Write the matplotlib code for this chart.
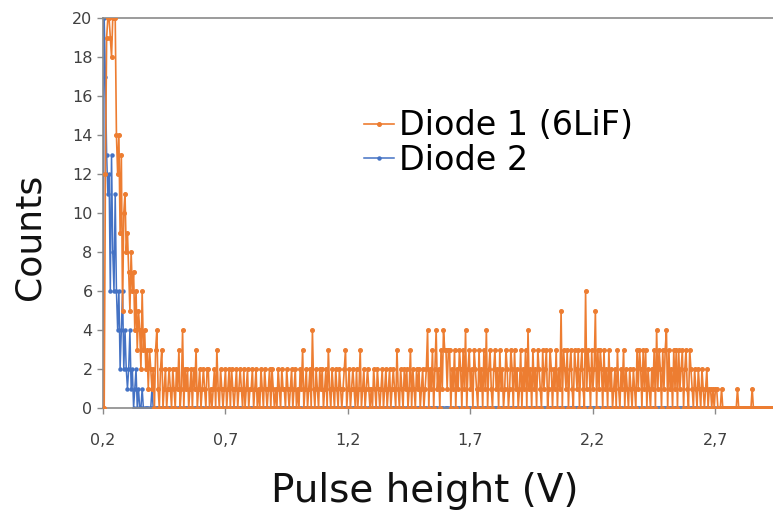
import matplotlib.pyplot as plt
import numpy as np

# pulse-height channels, 0.005 V wide, starting at 0.20 V
x_start = 0.20
x_step = 0.005

# Diode 1 (6LiF) counts; one row = 0.1 V
diode1_peak = [0, 0, 12, 19, 20, 20, 19, 18, 20, 20, 20, 14, 12, 14, 9, 13, 5, 10, 11, 8,
               9, 7, 5, 8, 6, 7, 4, 6, 3, 5, 4, 2, 6, 3, 4, 2, 3, 1, 3, 2,
               1, 2, 0, 3, 4, 1, 0, 2, 3, 0]                      # 0.20 - 0.445
diode1_flat = [1, 2, 0, 1, 2, 1, 0, 2, 1, 0, 2, 1, 3, 0, 1, 4, 0, 2, 1, 2,
               0, 1, 2, 0, 2, 1, 3, 0, 1, 2, 0, 1, 2, 1, 0, 2, 2, 0, 1, 0,
               1, 2, 0, 3, 1, 0, 2, 1, 0, 1, 2, 0, 1, 2, 0, 2, 1, 0, 1, 2,
               0, 1, 2, 1, 0, 2, 0, 1, 2, 0, 1, 1, 2, 0, 1, 2, 0, 1, 0, 2,
               1, 0, 2, 1, 0, 1, 2, 0, 2, 1, 0, 1, 0, 2, 1, 0, 2, 1, 1, 0,
               2, 1, 0, 1, 2, 0, 1, 2, 0, 1, 0, 2, 1, 3, 0, 1, 2, 0, 1, 2,
               0, 4, 1, 0, 2, 1, 0, 2, 1, 2, 0, 1, 2, 0, 3, 1, 0, 2, 1, 0,
               2, 1, 0, 2, 1, 0, 1, 2, 3, 0, 1, 2, 0, 1, 2, 1, 0, 2, 0, 1,
               3, 0, 1, 2, 0, 1, 2, 1, 0, 1, 0, 2, 1, 0, 2, 1, 0, 1, 2, 0,
               1, 2, 0, 1, 2, 0, 1, 2, 1, 0, 3, 1, 0, 2, 1, 0, 2, 1, 2, 0,
               1, 3, 0, 2, 1, 0, 2, 1, 2, 0, 1, 2, 0, 1, 2, 4, 0, 2, 1, 3]  # 0.45 - 1.545
diode1_bump = [0, 2, 4, 1, 2, 0, 3, 1, 4, 3, 3, 1, 3, 3, 0, 2, 1, 3, 0, 2,
               1, 3, 2, 0, 3, 1, 4, 0, 2, 3, 1, 2, 0, 3, 2, 1, 0, 3, 1, 2,
               0, 3, 1, 4, 0, 2, 3, 1, 0, 2, 3, 1, 2, 0, 3, 1, 2, 0, 1, 3,
               2, 0, 1, 3, 2, 0, 3, 1, 2, 0, 1, 3, 0, 2, 1, 3, 0, 4, 1, 2,
               0, 3, 1, 2, 0, 3, 2, 1, 0, 3, 1, 2, 3, 0, 1, 3, 2, 0, 2, 1,
               3, 0, 2, 1, 5, 0, 3, 2, 1, 3, 0, 2, 3, 1, 0, 3, 2, 1, 3, 0,
               2, 3, 1, 0, 6, 1, 3, 2, 0, 3, 1, 2, 5, 0, 3, 1, 3, 2, 0, 3,
               1, 2, 0, 3, 1, 2, 0, 1, 2, 0, 3, 1, 0, 2, 1, 3, 0, 2, 1, 0,
               2, 1, 0, 2, 1, 0, 3, 1, 3, 2, 0, 3, 1, 3, 0, 2, 1, 0, 2, 1,
               3, 0, 4, 1, 3, 2, 0, 3, 1, 3, 4, 0, 3, 1, 2, 0, 3, 1, 3, 0,
               3, 1, 2, 3, 0, 2, 3, 1, 0, 3, 2, 1, 0, 2, 1, 0, 2, 1, 0, 2]  # 1.55 - 2.645
diode1_tail = [1, 0, 1, 2, 0, 1, 1, 0, 1, 0, 1, 1, 0, 0, 0, 1, 0, 0, 0, 0,
               0, 0, 0, 0, 0, 0, 0, 0, 1, 0, 0, 0, 0, 0, 0, 0, 0, 0, 0, 0,
               1, 0, 0, 0, 0, 0, 0, 0, 0, 0, 0, 0, 0, 0, 0, 0, 0, 0, 0, 0]  # 2.65 - 2.945

# Diode 2 counts: only the low-energy part is non-zero
diode2_peak = [0, 20, 17, 13, 11, 12, 6, 13, 8, 6, 11, 6, 4, 6, 2, 4, 6, 2, 4, 2,
               1, 2, 4, 1, 2, 0, 1, 2, 0, 1, 0, 0, 1, 0, 0, 0, 0, 0, 0, 0,
               1, 0, 0, 0, 0, 0, 0, 0, 0, 0]

x_ticks = [0.2, 0.7, 1.2, 1.7, 2.2, 2.7]
x_tick_labels = ['0,2', '0,7', '1,2', '1,7', '2,2', '2,7']
y_ticks = [0, 2, 4, 6, 8, 10, 12, 14, 16, 18, 20]

diode1 = np.array(diode1_peak + diode1_flat + diode1_bump + diode1_tail)
x = x_start + x_step * np.arange(len(diode1))
diode2 = np.zeros(len(diode1))
diode2[:len(diode2_peak)] = diode2_peak

orange = '#ED7D31'
blue = '#4472C4'

fig = plt.figure(figsize=(7.73, 5.12), dpi=100)
ax = fig.add_axes([0.1332, 0.2031, 0.8668, 0.7617])

ax.plot(x, diode2, color=blue, lw=1.1, marker='o', ms=2.2, label='Diode 2', zorder=2)
ax.plot(x, diode1, color=orange, lw=1.2, marker='o', ms=2.6, label='Diode 1 (6LiF)', zorder=3)

ax.set_xlim(0.2, 2.935)
ax.set_ylim(0, 20)
ax.set_xticks(x_ticks)
ax.set_xticklabels(x_tick_labels)
ax.set_yticks(y_ticks)
ax.tick_params(axis='both', colors='#8a8a8a', labelcolor='#404040', labelsize=11.5,
               length=4, width=1)
ax.tick_params(axis='x', pad=14)

for side in ['left', 'bottom', 'top']:
    ax.spines[side].set_color('#8a8a8a')
    ax.spines[side].set_linewidth(1.2)
ax.spines['right'].set_visible(False)

ax.set_ylabel('Counts', fontsize=26, color='#111111')
ax.yaxis.set_label_coords(-0.084, 0.44)
ax.set_xlabel('Pulse height (V)', fontsize=28, color='#111111')
ax.xaxis.set_label_coords(0.48, -0.165)

handles, labels = ax.get_legend_handles_labels()
leg = ax.legend(handles[::-1], labels[::-1], loc='upper left', bbox_to_anchor=(0.37, 0.80),
                frameon=False, fontsize=24, handlelength=0.9, handletextpad=0.15,
                labelspacing=0.05, borderaxespad=0)

plt.savefig('out.png', dpi=100)
